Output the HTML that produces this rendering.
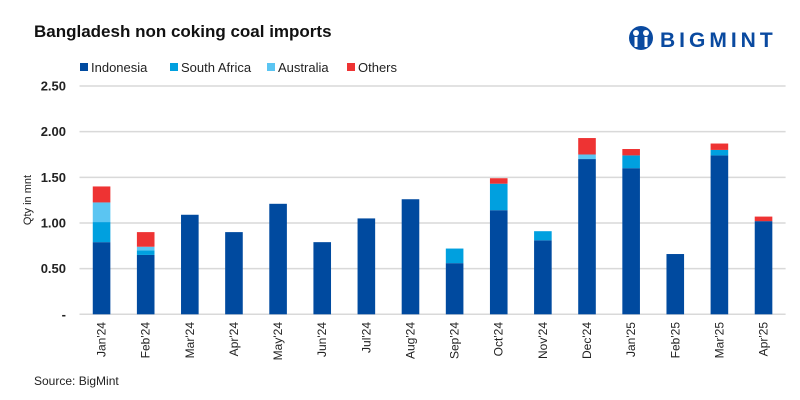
<!DOCTYPE html>
<html><head><meta charset="utf-8"><style>
body{margin:0;background:#fff;font-family:"Liberation Sans",sans-serif;}
#wrap{position:relative;width:800px;height:400px;overflow:hidden;background:#fff}
</style></head><body>
<div id="wrap">
<svg id="svg" width="800" height="400" xmlns="http://www.w3.org/2000/svg">
<text x="34" y="37" font-size="17" font-weight="bold" fill="#111">Bangladesh non coking coal imports</text>
<g>
<circle cx="641" cy="38" r="12" fill="#0a4aa0"/>
<circle cx="636" cy="33" r="3" fill="#fff"/><circle cx="646" cy="33" r="3" fill="#fff"/>
<rect x="634.5" y="37" width="3" height="10" fill="#fff"/><rect x="644.5" y="37" width="3" height="10" fill="#fff"/>
<text x="660" y="47" font-size="21" font-weight="bold" fill="#0a4aa0" letter-spacing="4">BIGMINT</text>
</g>
<g id="legend"></g>
<g id="grid"></g><g id="bars"></g><g id="labels"></g>
<text transform="translate(31,200) rotate(-90)" text-anchor="middle" font-size="11" fill="#222">Qty in mnt</text>
<text x="34" y="385" font-size="12" fill="#222">Source: BigMint</text>
</svg></div>
<script>
const categories=["Jan'24","Feb'24","Mar'24","Apr'24","May'24","Jun'24","Jul'24","Aug'24","Sep'24","Oct'24","Nov'24","Dec'24","Jan'25","Feb'25","Mar'25","Apr'25"];
const indonesia=[0.79,0.65,1.09,0.90,1.21,0.79,1.05,1.26,0.56,1.14,0.81,1.70,1.60,0.66,1.74,1.02];
const southAfrica=[0.22,0.05,0,0,0,0,0,0,0.16,0.29,0.10,0,0.14,0,0.06,0];
const australia=[0.215,0.04,0,0,0,0,0,0,0,0,0,0.05,0,0,0,0];
const others=[0.175,0.16,0,0,0,0,0,0,0,0.06,0,0.18,0.07,0,0.07,0.05];
const seriesNames=["Indonesia","South Africa","Australia","Others"];
const yTicks=[0,0.5,1,1.5,2,2.5];
const yTickLabels=["-","0.50","1.00","1.50","2.00","2.50"];
const colors=["#004a9f","#00a0df","#5bc5f2","#ee3333"];
const NS="http://www.w3.org/2000/svg";
const L=79.5,R=785.6,Y0=314.3,Ymax=2.5,Ytop=86;
const y=v=>Y0-(v/Ymax)*(Y0-Ytop);
const pitch=(R-L)/categories.length;
const xc=i=>L+pitch*(i+0.5);
function mk(t,a,p){const e=document.createElementNS(NS,t);for(const k in a)e.setAttribute(k,a[k]);p.appendChild(e);return e;}
const grid=document.getElementById('grid'),bars=document.getElementById('bars'),lab=document.getElementById('labels'),leg=document.getElementById('legend');
yTicks.forEach((t,i)=>{
 const ln=mk('line',{x1:L,x2:R,y1:y(t),y2:y(t),stroke:'#d9d9d9','stroke-width':1.5},grid);
 
 
 const tx=mk('text',{x:66,y:y(t)+4.5,'text-anchor':'end','font-size':13,'font-weight':'bold',fill:'#222'},grid);
 tx.textContent=yTickLabels[i];
 
 
});
const series=[indonesia,southAfrica,australia,others];
categories.forEach((c,i)=>{
 let base=0;
 series.forEach((s,k)=>{
  const v=s[i]; if(v<=0)return;
  const r=mk('rect',{x:xc(i)-8.8,width:17.6,y:y(base+v),height:y(base)-y(base+v),fill:colors[k]},bars);
  
  
  base+=v;
 });
 const t=mk('text',{transform:`translate(${xc(i)+4},322) rotate(-90)`,'text-anchor':'end','font-size':12,fill:'#222'},lab);
 t.textContent=c;
 
 
});
let lx=80;
const lw=[90,97,80,60];
seriesNames.forEach((n,k)=>{
 const g=mk('g',{},leg);
 
 
 mk('rect',{x:lx,y:63,width:8,height:8,fill:colors[k]},g);
 const t=mk('text',{x:lx+11,y:72,'font-size':13,fill:'#222'},g);t.textContent=n;
 lx+=lw[k];
});
</script></body></html>
